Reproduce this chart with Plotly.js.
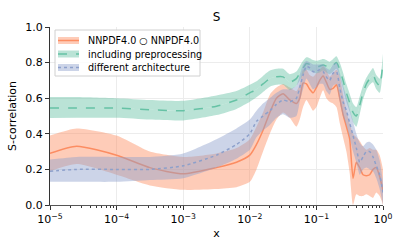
<!DOCTYPE html>
<html>
<head>
<meta charset="utf-8">
<script src="https://cdn.plot.ly/plotly-3.0.1.min.js"></script>
<style>html,body{margin:0;padding:0;background:#fff;}#chart{width:407px;height:250px;}</style>
</head>
<body>
<div id="chart"></div>
<script>
const xVals = [1e-5, 2.51e-5, 1e-4, 3.16e-4, 1e-3, 3.16e-3, 6.31e-3, 1e-2, 0.0126, 0.0158, 0.02, 0.0251, 0.0316, 0.0398, 0.0501, 0.0562, 0.0631, 0.0708, 0.0794, 0.0891, 0.1, 0.112, 0.126, 0.141, 0.158, 0.178, 0.2, 0.224, 0.251, 0.282, 0.316, 0.355, 0.398, 0.447, 0.501, 0.562, 0.631, 0.708, 0.794, 0.891, 1.0];

const baseMid = [0.29,0.33,0.28,0.21,0.175,0.21,0.24,0.28,0.34,0.42,0.52,0.60,0.625,0.59,0.57,0.60,0.685,0.68,0.65,0.63,0.66,0.70,0.725,0.69,0.65,0.655,0.675,0.60,0.51,0.44,0.37,0.15,0.24,0.21,0.17,0.165,0.17,0.20,0.21,0.16,0.08];
const baseHi  = [0.39,0.43,0.39,0.30,0.27,0.29,0.32,0.37,0.44,0.52,0.62,0.66,0.68,0.66,0.64,0.68,0.76,0.76,0.73,0.72,0.74,0.76,0.78,0.76,0.72,0.74,0.76,0.72,0.62,0.53,0.46,0.40,0.38,0.36,0.33,0.31,0.32,0.31,0.31,0.28,0.20];
const baseLo  = [0.19,0.23,0.17,0.11,0.085,0.09,0.10,0.13,0.20,0.30,0.40,0.48,0.52,0.49,0.44,0.48,0.55,0.59,0.56,0.53,0.55,0.60,0.645,0.60,0.58,0.57,0.55,0.46,0.38,0.30,0.18,0.0,0.06,0.05,0.05,0.06,0.05,0.04,0.07,0.05,0.0];

const prepMid = [0.545,0.545,0.545,0.535,0.53,0.555,0.59,0.63,0.65,0.68,0.71,0.72,0.72,0.69,0.71,0.74,0.77,0.795,0.79,0.78,0.775,0.78,0.787,0.78,0.77,0.785,0.80,0.76,0.70,0.63,0.575,0.52,0.50,0.56,0.63,0.68,0.71,0.73,0.69,0.67,0.81];
const prepHi  = [0.607,0.607,0.60,0.59,0.585,0.615,0.64,0.675,0.695,0.725,0.755,0.765,0.765,0.735,0.75,0.78,0.81,0.83,0.825,0.815,0.81,0.815,0.82,0.815,0.805,0.82,0.835,0.80,0.745,0.68,0.625,0.57,0.55,0.61,0.67,0.715,0.745,0.77,0.73,0.71,0.85];
const prepLo  = [0.489,0.49,0.49,0.48,0.475,0.505,0.54,0.58,0.605,0.635,0.665,0.675,0.675,0.645,0.67,0.70,0.735,0.76,0.755,0.745,0.74,0.745,0.755,0.745,0.735,0.75,0.765,0.72,0.655,0.58,0.525,0.465,0.44,0.51,0.59,0.645,0.675,0.69,0.65,0.63,0.77];

const archMid = [0.19,0.20,0.20,0.20,0.22,0.28,0.34,0.40,0.47,0.50,0.53,0.565,0.59,0.58,0.60,0.66,0.73,0.78,0.77,0.75,0.75,0.76,0.75,0.72,0.70,0.74,0.75,0.66,0.58,0.53,0.46,0.39,0.32,0.24,0.27,0.30,0.30,0.27,0.22,0.17,0.07];
const archHi  = [0.255,0.27,0.27,0.27,0.29,0.37,0.43,0.48,0.53,0.57,0.60,0.63,0.65,0.65,0.67,0.73,0.79,0.81,0.80,0.79,0.79,0.79,0.79,0.77,0.76,0.79,0.80,0.74,0.67,0.61,0.54,0.47,0.40,0.35,0.33,0.35,0.355,0.34,0.31,0.25,0.13];
const archLo  = [0.13,0.13,0.13,0.14,0.15,0.21,0.26,0.31,0.38,0.42,0.45,0.49,0.51,0.49,0.50,0.58,0.65,0.71,0.68,0.65,0.66,0.68,0.68,0.64,0.62,0.67,0.68,0.58,0.50,0.45,0.38,0.30,0.24,0.17,0.20,0.21,0.20,0.19,0.15,0.09,0.0];

const seriesNames = ["NNPDF4.0 \u25CB NNPDF4.0", "including preprocessing", "different architecture"];
const xTickVals = [1e-5, 1e-4, 1e-3, 1e-2, 1e-1, 1];
const xTickText = ["10<sup>\u22125</sup>", "10<sup>\u22124</sup>", "10<sup>\u22123</sup>", "10<sup>\u22122</sup>", "10<sup>\u22121</sup>", "10<sup>0</sup>"];
const yTickVals = [0, 0.2, 0.4, 0.6, 0.8, 1.0];

const styles = [
  {color: "#fc8d62", fill: "rgba(252,141,98,0.45)", dash: "solid"},
  {color: "#66c2a5", fill: "rgba(102,194,165,0.45)", dash: "dash"},
  {color: "#8da0cb", fill: "rgba(141,160,203,0.45)", dash: "dot"}
];
const sets = [[baseLo, baseMid, baseHi], [prepLo, prepMid, prepHi], [archLo, archMid, archHi]];

const traces = [];
sets.forEach((s, i) => {
  const st = styles[i];
  const lineShape = {shape: "spline", smoothing: 0.6};
  traces.push({x: xVals, y: s[0], type: "scatter", mode: "lines", line: Object.assign({width: 0, color: st.color}, lineShape), showlegend: false, hoverinfo: "skip"});
  traces.push({x: xVals, y: s[1], type: "scatter", mode: "lines", name: seriesNames[i], fill: "tonexty", fillcolor: st.fill, line: Object.assign({width: 1.5, color: st.color, dash: st.dash}, lineShape), showlegend: false});
  traces.push({x: xVals, y: s[2], type: "scatter", mode: "lines", fill: "tonexty", fillcolor: st.fill, line: Object.assign({width: 0, color: st.color}, lineShape), showlegend: false, hoverinfo: "skip"});
});

// custom compact legend (matplotlib-like), positioned in plot-area pixels
const M = {l: 50, r: 24, t: 27, b: 45};
const W = 407, H = 250;
const pw = W - M.l - M.r, ph = H - M.t - M.b;
const px = v => (v - M.l) / pw;
const py = v => (H - M.b - v) / ph;
const shapes = [];
const annotations = [];
shapes.push({type: "rect", xref: "paper", yref: "paper", x0: px(55), x1: px(200), y0: py(76), y1: py(30), fillcolor: "rgba(255,255,255,0.85)", line: {color: "#d0d0d0", width: 1}, layer: "above"});
const rowY = [40.5, 54, 67.5];
seriesNames.forEach((n, i) => {
  const st = styles[i];
  const yc = rowY[i];
  shapes.push({type: "rect", xref: "paper", yref: "paper", x0: px(58), x1: px(79), y0: py(yc + 3.5), y1: py(yc - 3.5), fillcolor: st.fill, line: {width: 0}, layer: "above"});
  shapes.push({type: "line", xref: "paper", yref: "paper", x0: px(58), x1: px(79), y0: py(yc), y1: py(yc), line: {color: st.color, width: 1.5, dash: st.dash}, layer: "above"});
  annotations.push({xref: "paper", yref: "paper", x: px(86), y: py(yc), xanchor: "left", yanchor: "middle", showarrow: false, text: n, font: {family: "DejaVu Sans, sans-serif", size: 9.6, color: "#000"}});
});

const font = {family: "DejaVu Sans, sans-serif", size: 11, color: "#000"};
const layout = {
  width: W, height: H,
  margin: M,
  paper_bgcolor: "#fff", plot_bgcolor: "#fff",
  font: font,
  title: {text: "S", font: {family: "DejaVu Sans, sans-serif", size: 12, color: "#000"}, xref: "paper", x: 0.5, xanchor: "center", yref: "container", y: 0.932, yanchor: "middle"},
  showlegend: false,
  shapes: shapes,
  annotations: annotations,
  xaxis: {
    type: "log", range: [-5, 0],
    tickmode: "array", tickvals: xTickVals, ticktext: xTickText,
    ticks: "outside", ticklen: 4, tickcolor: "#333",
    minor: {ticks: "outside", ticklen: 2, tickcolor: "#333", dtick: "D1", showgrid: false},
    showgrid: true, gridcolor: "#ececec", gridwidth: 1,
    showline: true, linecolor: "#555", linewidth: 1, zeroline: false,
    tickfont: font,
    title: {text: "x", font: font, standoff: 4}
  },
  yaxis: {
    range: [0, 1],
    tickmode: "array", tickvals: yTickVals, tickformat: ".1f",
    ticks: "outside", ticklen: 4, tickcolor: "#333",
    showgrid: true, gridcolor: "#ececec", gridwidth: 1,
    showline: true, linecolor: "#333", linewidth: 1, zeroline: false,
    tickfont: font,
    title: {text: "S-correlation", font: font, standoff: 6}
  }
};
Plotly.newPlot("chart", traces, layout, {displayModeBar: false, staticPlot: true});
</script>
</body>
</html>
